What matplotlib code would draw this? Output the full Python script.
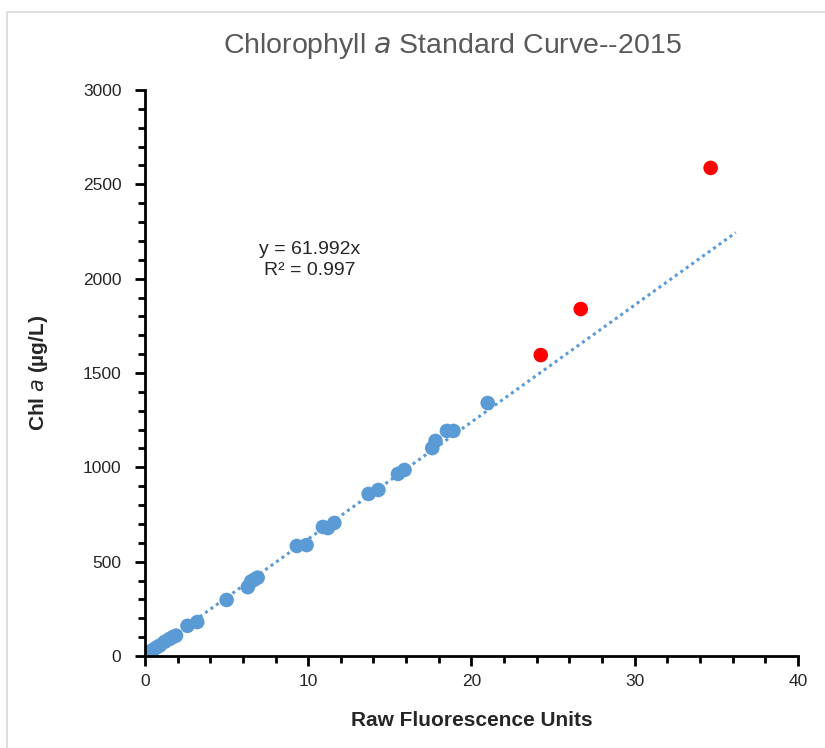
import matplotlib.pyplot as plt
import numpy as np
from matplotlib.ticker import MultipleLocator
from matplotlib.patches import Rectangle

plt.rcParams['font.family'] = ['Liberation Sans', 'DejaVu Sans']

# --- Standards used in the fit ---
rfu = [0.1, 0.3, 0.5, 0.7, 0.9, 1.2, 1.5, 1.7, 1.9,
       2.6, 3.2, 5.0, 6.3, 6.5, 6.7, 6.9,
       9.3, 9.9, 10.9, 11.2, 11.6,
       13.7, 14.3, 15.5, 15.9,
       17.6, 17.8, 18.5, 18.9, 21.0]
chl = [8, 22, 33, 45, 55, 75, 90, 100, 108,
       160, 180, 297, 365, 395, 405, 415,
       583, 588, 684, 678, 705,
       859, 880, 965, 986,
       1102, 1140, 1193, 1193, 1341]

# --- Standards left out of the fit ---
rfu_out = [24.25, 26.7, 34.66]
chl_out = [1595, 1839, 2587]

slope = 61.992
r2 = 0.997
fit_x_max = 36.2

fig = plt.figure(figsize=(8.25, 7.48), dpi=100)
ax = fig.add_axes([0.1758, 0.123, 0.7912, 0.7567])

# light chart-area frame
fig.patches.append(Rectangle((7 / 825, -0.1), 1.2, 1 - 12 / 748 + 0.1,
                             transform=fig.transFigure, fill=False,
                             edgecolor='#d9d9d9', linewidth=1.2))

xs = np.linspace(0, fit_x_max, 100)
ax.plot(xs, slope * xs, color='#5B9BD5', linestyle=(0, (1, 1.2)), linewidth=2.2, zorder=1)
ax.scatter(rfu, chl, s=110, color='#5B9BD5', edgecolors='none', zorder=2)
ax.scatter(rfu_out, chl_out, s=110, color='#FF0000', edgecolors='none', zorder=2)

ax.text(10.1, 2100, f'y = {slope}x\nR² = {r2}', ha='center', va='center',
        fontsize=14, color='#262626', linespacing=1.3)

ax.set_xlim(0, 40)
ax.set_ylim(0, 3000)
ax.xaxis.set_major_locator(MultipleLocator(10))
ax.xaxis.set_minor_locator(MultipleLocator(2))
ax.yaxis.set_major_locator(MultipleLocator(500))
ax.yaxis.set_minor_locator(MultipleLocator(100))

for side in ['top', 'right']:
    ax.spines[side].set_visible(False)
for side in ['left', 'bottom']:
    ax.spines[side].set_linewidth(2)
    ax.spines[side].set_color('black')

ax.tick_params(which='major', length=7, width=2, direction='out',
               labelsize=12.5, labelcolor='#262626')
ax.tick_params(axis='y', which='major', pad=10)
ax.tick_params(axis='x', which='major', pad=6)
ax.tick_params(which='minor', length=5, width=2, direction='out')

fig.text(452 / 825, 1 - 46 / 748, 'Chlorophyll $\\it{a}$ Standard Curve--2015',
         fontsize=20.5, color='#595959', ha='center', va='center')
ax.set_xlabel('Raw Fluorescence Units', fontsize=15, fontweight='bold',
              color='#262626')
ax.set_ylabel('Chl $\\bf{\\it{a}}$ (µg/L)', fontsize=15, fontweight='bold',
              color='#262626')
ax.xaxis.set_label_coords(0.5, -0.097)
ax.yaxis.set_label_coords(-0.146, 0.5)

plt.savefig('out.png', dpi=100)
plt.close()
